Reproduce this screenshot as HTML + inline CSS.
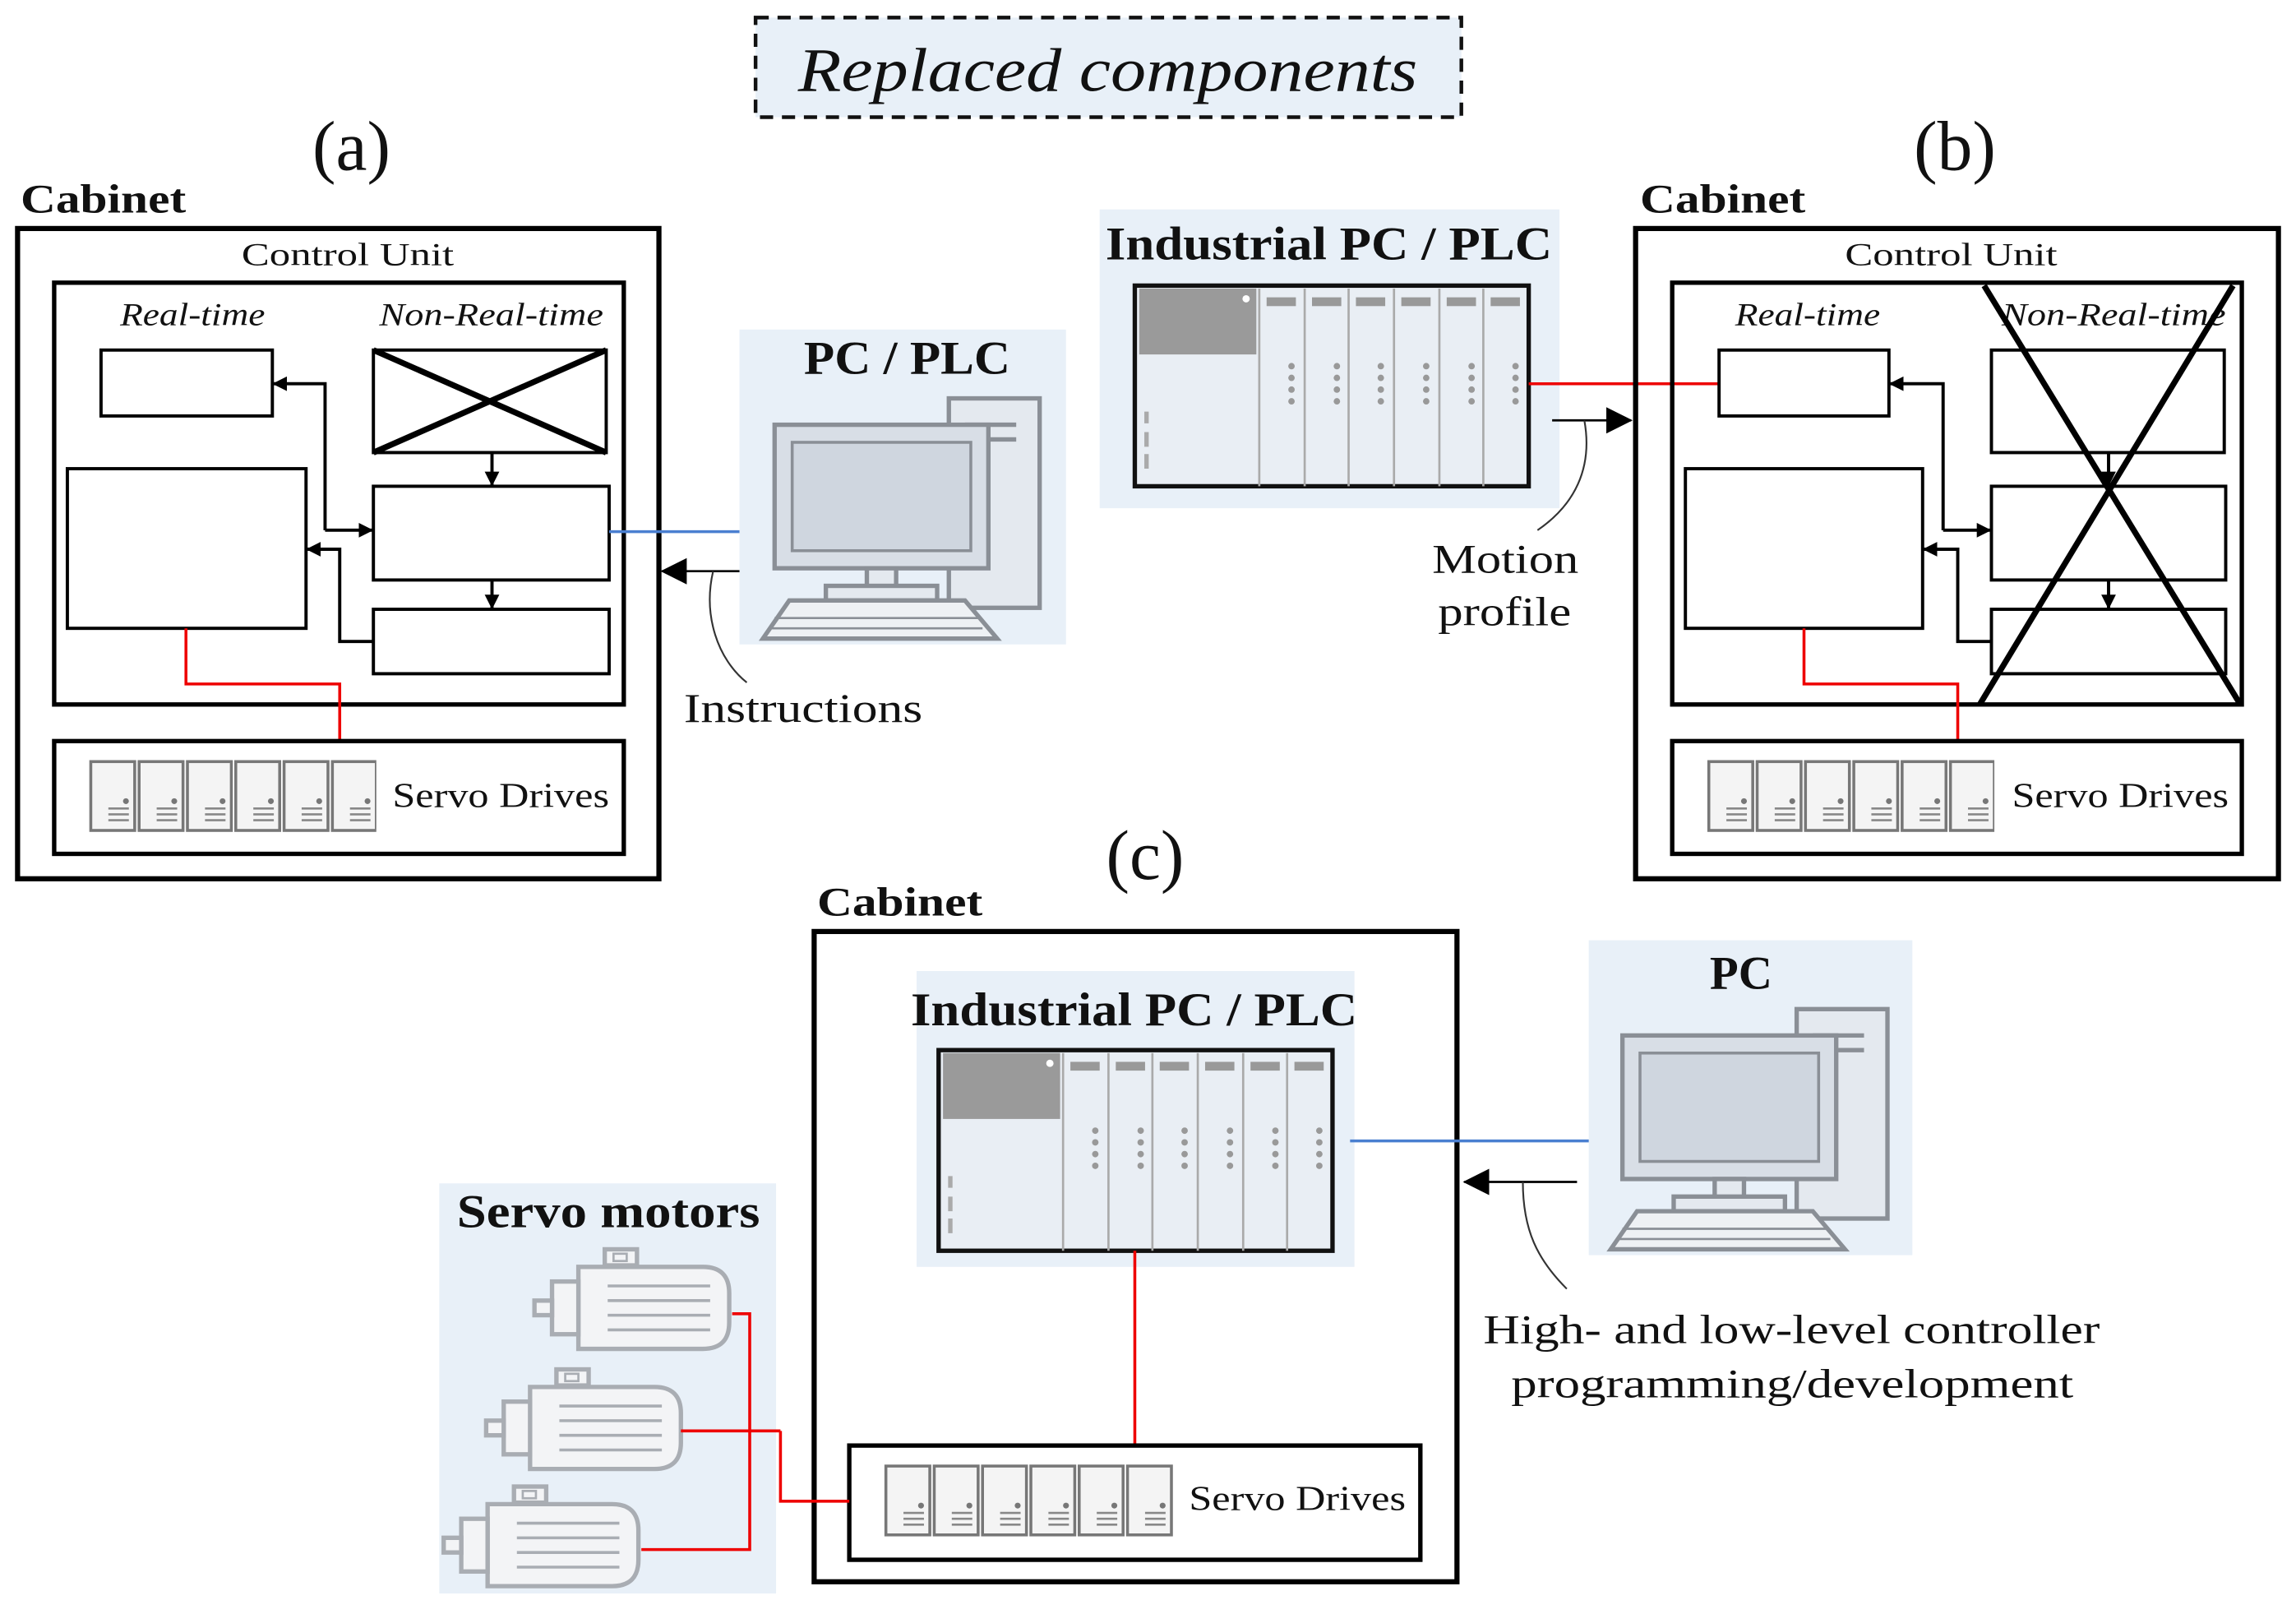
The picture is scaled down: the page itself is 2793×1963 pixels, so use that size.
<!DOCTYPE html>
<html><head><meta charset="utf-8"><style>
html,body{margin:0;padding:0;background:#fff}
svg{display:block}
text{font-family:"Liberation Serif",serif;fill:#111}
</style></head><body>
<svg width="2793" height="1963" viewBox="0 0 1568 1102" xmlns="http://www.w3.org/2000/svg">
<defs>
<marker id="ah" markerWidth="10" markerHeight="10" refX="9" refY="5" orient="auto" markerUnits="userSpaceOnUse"><path d="M0,0 L10,5 L0,10 z" fill="#000"/></marker>
<marker id="ahb" markerWidth="18" markerHeight="18" refX="17" refY="9" orient="auto" markerUnits="userSpaceOnUse"><path d="M0,0 L18,9 L0,18 z" fill="#000"/></marker>
<g id="drive">
<rect x="0" y="0" width="30" height="47" fill="#f4f4f4" stroke="#777" stroke-width="2"/>
<circle cx="24" cy="27" r="2" fill="#777"/>
<path d="M12,32h14M12,36h14M12,40h14" stroke="#888" stroke-width="1.5"/>
</g>
<g id="drives">
<use href="#drive" x="0"/><use href="#drive" x="33"/><use href="#drive" x="66"/><use href="#drive" x="99"/><use href="#drive" x="132"/><use href="#drive" x="165"/>
</g>
<g id="plc">
<rect x="0" y="0" width="269" height="137" fill="#e9eef4" stroke="#111" stroke-width="3"/>
<rect x="3" y="2" width="80" height="45" fill="#9a9a9a"/>
<circle cx="76" cy="9" r="2.5" fill="#fff"/>
<path d="M8,100v10M8,115v10M8,86v8" stroke="#aaa" stroke-width="3"/>
<g fill="none" stroke="#aaa" stroke-width="1.5">
<path d="M85,2v135M116,2v135M146,2v135M177,2v135M208,2v135M238,2v135"/>
</g>
<g fill="#999">
<rect x="90" y="8" width="20" height="6"/><rect x="121" y="8" width="20" height="6"/><rect x="151" y="8" width="20" height="6"/><rect x="182" y="8" width="20" height="6"/><rect x="213" y="8" width="20" height="6"/><rect x="243" y="8" width="20" height="6"/>
<circle cx="107" cy="55" r="2.2"/><circle cx="107" cy="63" r="2.2"/><circle cx="107" cy="71" r="2.2"/><circle cx="107" cy="79" r="2.2"/>
<circle cx="138" cy="55" r="2.2"/><circle cx="138" cy="63" r="2.2"/><circle cx="138" cy="71" r="2.2"/><circle cx="138" cy="79" r="2.2"/>
<circle cx="168" cy="55" r="2.2"/><circle cx="168" cy="63" r="2.2"/><circle cx="168" cy="71" r="2.2"/><circle cx="168" cy="79" r="2.2"/>
<circle cx="199" cy="55" r="2.2"/><circle cx="199" cy="63" r="2.2"/><circle cx="199" cy="71" r="2.2"/><circle cx="199" cy="79" r="2.2"/>
<circle cx="230" cy="55" r="2.2"/><circle cx="230" cy="63" r="2.2"/><circle cx="230" cy="71" r="2.2"/><circle cx="230" cy="79" r="2.2"/>
<circle cx="260" cy="55" r="2.2"/><circle cx="260" cy="63" r="2.2"/><circle cx="260" cy="71" r="2.2"/><circle cx="260" cy="79" r="2.2"/>
</g>
</g>
<g id="pc" fill="#e4e9ef" stroke="#8a8f96" stroke-width="3">
<rect x="124" y="0" width="62" height="143"/>
<path d="M135,18h35M135,28h35" />
<rect x="5" y="18" width="146" height="98" fill="#d8dee6"/>
<rect x="17" y="30" width="122" height="74" fill="#cfd6df" stroke-width="2"/>
<rect x="68" y="116" width="20" height="14"/>
<rect x="40" y="128" width="76" height="10"/>
<path d="M15,138h120l22,26h-160z" fill="#eef1f4"/>
<path d="M5,150h140M3,157h144" stroke-width="1.5"/>
</g>
<g id="motor" fill="#f3f4f6" stroke="#a9adb3" stroke-width="3">
<rect x="48" y="0" width="22" height="11"/>
<rect x="54" y="3" width="9" height="5" stroke-width="1.5"/>
<path d="M30,12h85q18,0 18,18v20q0,18 -18,18h-85z"/>
<path d="M50,25h70M50,35h70M50,45h70M50,55h70" stroke-width="2"/>
<rect x="12" y="22" width="18" height="36"/>
<path d="M0,35h12v10h-12z"/>
</g>
</defs>

<rect x="516" y="12" width="482" height="68" fill="#e8f0f8" stroke="#111" stroke-width="2.5" stroke-dasharray="9,6"/>
<text x="545" y="62" font-size="42" font-style="italic" textLength="423" lengthAdjust="spacingAndGlyphs">Replaced components</text>

<text x="240" y="116" font-size="48" text-anchor="middle">(a)</text>
<text x="1335" y="116" font-size="48" text-anchor="middle">(b)</text>
<text x="782" y="600" font-size="48" text-anchor="middle">(c)</text>

<!-- panel a -->
<text x="14" y="145" font-size="28" font-weight="bold" textLength="113" lengthAdjust="spacingAndGlyphs">Cabinet</text>
<rect x="12" y="156" width="438" height="444" fill="none" stroke="#000" stroke-width="3.5"/>
<text x="165" y="181" font-size="22" textLength="145" lengthAdjust="spacingAndGlyphs">Control Unit</text>
<rect x="37" y="193" width="389" height="288" fill="none" stroke="#000" stroke-width="3"/>
<text x="82" y="222" font-size="22" font-style="italic" textLength="99" lengthAdjust="spacingAndGlyphs">Real-time</text>
<text x="259" y="222" font-size="22" font-style="italic" textLength="153" lengthAdjust="spacingAndGlyphs">Non-Real-time</text>
<g fill="none" stroke="#000" stroke-width="2.2">
<rect x="69" y="239" width="117" height="45"/>
<rect x="255" y="239" width="159" height="70"/>
<path d="M255,239L414,309M414,239L255,309" stroke-width="4"/>
<rect x="46" y="320" width="163" height="109"/>
<rect x="255" y="332" width="161" height="64"/>
<rect x="255" y="416" width="161" height="44"/>
<path d="M336,309V331" marker-end="url(#ah)"/>
<path d="M336,396V415" marker-end="url(#ah)"/>
<path d="M222,362V262H187" marker-end="url(#ah)"/>
<path d="M222,362H254" marker-end="url(#ah)"/>
<path d="M255,438H232V375H210" marker-end="url(#ah)"/>
</g>
<path d="M127,429V467H232V506" fill="none" stroke="#e00" stroke-width="2"/>
<rect x="37" y="506" width="389" height="77" fill="none" stroke="#000" stroke-width="3"/>
<use href="#drives" x="62" y="520"/>
<rect x="257" y="515" width="10" height="60" fill="#fff"/>
<text x="268" y="551" font-size="24" textLength="148" lengthAdjust="spacingAndGlyphs">Servo Drives</text>
<path d="M416,363H508" stroke="#4a7fd0" stroke-width="2"/>
<path d="M508,390H452" stroke="#000" stroke-width="1.5" marker-end="url(#ahb)"/>
<path d="M487,390C480,420 490,450 510,466" fill="none" stroke="#333" stroke-width="1.2"/>
<text x="467" y="493" font-size="28" textLength="163" lengthAdjust="spacingAndGlyphs">Instructions</text>

<rect x="505" y="225" width="223" height="215" fill="#e8f0f8"/>
<text x="549" y="255" font-size="32" font-weight="bold" textLength="141" lengthAdjust="spacingAndGlyphs">PC / PLC</text>
<use href="#pc" x="524" y="272"/>

<!-- panel b -->
<rect x="751" y="143" width="314" height="204" fill="#e8f0f8"/>
<text x="755" y="177" font-size="32" font-weight="bold" textLength="305" lengthAdjust="spacingAndGlyphs">Industrial PC / PLC</text>
<use href="#plc" x="775" y="195"/>
<path d="M1044,262H1174" stroke="#e00" stroke-width="2"/>
<path d="M1060,287H1114" stroke="#000" stroke-width="1.5" marker-end="url(#ahb)"/>
<path d="M1082,287C1088,320 1075,345 1050,362" fill="none" stroke="#333" stroke-width="1.2"/>
<text x="978" y="391" font-size="28" textLength="100" lengthAdjust="spacingAndGlyphs">Motion</text>
<text x="982" y="427" font-size="28" textLength="91" lengthAdjust="spacingAndGlyphs">profile</text>

<text x="1120" y="145" font-size="28" font-weight="bold" textLength="113" lengthAdjust="spacingAndGlyphs">Cabinet</text>
<rect x="1117" y="156" width="439" height="444" fill="none" stroke="#000" stroke-width="3.5"/>
<text x="1260" y="181" font-size="22" textLength="145" lengthAdjust="spacingAndGlyphs">Control Unit</text>
<rect x="1142" y="193" width="389" height="288" fill="none" stroke="#000" stroke-width="3"/>
<text x="1185" y="222" font-size="22" font-style="italic" textLength="99" lengthAdjust="spacingAndGlyphs">Real-time</text>
<text x="1367" y="222" font-size="22" font-style="italic" textLength="153" lengthAdjust="spacingAndGlyphs">Non-Real-time</text>
<g fill="none" stroke="#000" stroke-width="2.2">
<rect x="1174" y="239" width="116" height="45"/>
<rect x="1360" y="239" width="159" height="70"/>
<rect x="1151" y="320" width="162" height="109"/>
<rect x="1360" y="332" width="160" height="64"/>
<rect x="1360" y="416" width="160" height="44"/>
<path d="M1440,309V331" marker-end="url(#ah)"/>
<path d="M1440,396V415" marker-end="url(#ah)"/>
<path d="M1327,362V262H1291" marker-end="url(#ah)"/>
<path d="M1327,362H1359" marker-end="url(#ah)"/>
<path d="M1360,438H1337V375H1314" marker-end="url(#ah)"/>
<path d="M1355,195L1530,481M1525,195L1352,481" stroke-width="4"/>
</g>
<path d="M1232,429V467H1337V506" fill="none" stroke="#e00" stroke-width="2"/>
<rect x="1142" y="506" width="389" height="77" fill="none" stroke="#000" stroke-width="3"/>
<use href="#drives" x="1167" y="520"/>
<rect x="1362" y="515" width="10" height="60" fill="#fff"/>
<text x="1374" y="551" font-size="24" textLength="148" lengthAdjust="spacingAndGlyphs">Servo Drives</text>

<!-- panel c -->
<text x="558" y="625" font-size="28" font-weight="bold" textLength="113" lengthAdjust="spacingAndGlyphs">Cabinet</text>
<rect x="556" y="636" width="439" height="444" fill="none" stroke="#000" stroke-width="3.5"/>
<rect x="626" y="663" width="299" height="202" fill="#e8f0f8"/>
<text x="622" y="700" font-size="32" font-weight="bold" textLength="305" lengthAdjust="spacingAndGlyphs">Industrial PC / PLC</text>
<use href="#plc" x="641" y="717"/>
<path d="M775,854V987" stroke="#e00" stroke-width="2"/>
<rect x="580" y="987" width="390" height="78" fill="none" stroke="#000" stroke-width="3"/>
<use href="#drives" x="605" y="1001"/>
<text x="812" y="1031" font-size="24" textLength="148" lengthAdjust="spacingAndGlyphs">Servo Drives</text>
<path d="M922,779H1087" stroke="#4a7fd0" stroke-width="2"/>
<path d="M1077,807H1000" stroke="#000" stroke-width="1.5" marker-end="url(#ahb)"/>
<path d="M1040,807C1040,840 1050,860 1070,880" fill="none" stroke="#333" stroke-width="1.2"/>
<text x="1013" y="917" font-size="28" textLength="421" lengthAdjust="spacingAndGlyphs">High- and low-level controller</text>
<text x="1032" y="954" font-size="28" textLength="384" lengthAdjust="spacingAndGlyphs">programming/development</text>

<rect x="1085" y="642" width="221" height="215" fill="#e8f0f8"/>
<text x="1189" y="675" font-size="32" font-weight="bold" text-anchor="middle">PC</text>
<use href="#pc" x="1103" y="689"/>

<rect x="300" y="808" width="230" height="280" fill="#e8f0f8"/>
<text x="312" y="838" font-size="32" font-weight="bold" textLength="207" lengthAdjust="spacingAndGlyphs">Servo motors</text>
<use href="#motor" x="365" y="853"/>
<use href="#motor" x="332" y="935"/>
<use href="#motor" x="303" y="1015"/>
<path d="M500,897H512V1058H438M465,977H512M533,977V1025H580" fill="none" stroke="#e00" stroke-width="2"/>
<path d="M512,977H533" stroke="#e00" stroke-width="2"/>
</svg>
</body></html>
